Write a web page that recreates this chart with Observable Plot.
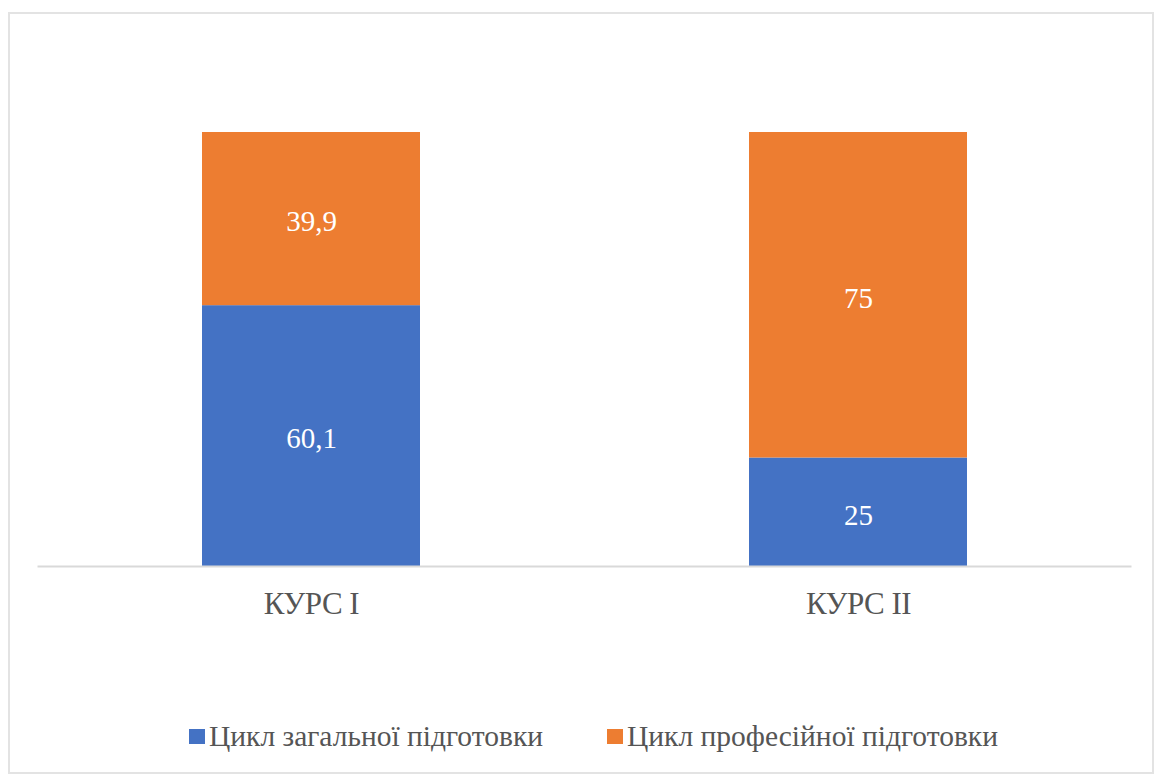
<!DOCTYPE html>
<html>
<head>
<meta charset="utf-8">
<script src="https://cdn.jsdelivr.net/npm/d3@7"></script>
<script src="https://cdn.jsdelivr.net/npm/@observablehq/plot@0.6"></script>
<style>
  html, body { margin: 0; padding: 0; background: #fff; }
  body { width: 1158px; height: 779px; position: relative; overflow: hidden; font-family: "Liberation Serif", "DejaVu Serif", serif; }
  #frame { position: absolute; left: 8px; top: 12px; width: 1146px; height: 762px; border: 2px solid #e3e3e3; box-sizing: border-box; pointer-events: none; }
  #chart { position: absolute; left: 0; top: 0; }
  #legend { position: absolute; left: 189px; top: 720px; display: flex; align-items: center; gap: 64px; font-size: 29.5px; color: #555555; }
  .item { display: flex; align-items: center; gap: 4px; }
  .sw { width: 16px; height: 15px; display: inline-block; }
</style>
</head>
<body>
<div id="frame"></div>
<div id="chart"></div>
<div id="legend"></div>
<script>
const courses = ["КУРС I", "КУРС II"];
const seriesNames = ["Цикл загальної підготовки", "Цикл професійної підготовки"];
const generalValues = [60.1, 25];
const professionalValues = [39.9, 75];
const seriesColors = ["#4472C4", "#ED7D31"];

const data = [];
courses.forEach((c, i) => {
  data.push({course: c, series: seriesNames[0], value: generalValues[i]});
  data.push({course: c, series: seriesNames[1], value: professionalValues[i]});
});
const fmt = v => String(v).replace(".", ",");

const plot = Plot.plot({
  width: 1158,
  height: 660,
  marginTop: 132,
  marginBottom: 94,
  marginLeft: 37.5,
  marginRight: 26.5,
  style: {fontFamily: "Liberation Serif", fontSize: "28px", background: "transparent"},
  x: {domain: courses, paddingInner: 0.6015, paddingOuter: 0.30075, align: 0.5, label: null},
  y: {domain: [0, 100], axis: null},
  color: {domain: seriesNames, range: seriesColors},
  marks: [
    Plot.barY(data, Plot.stackY({x: "course", y: "value", fill: "series", order: null})),
    Plot.ruleY([0], {stroke: "#d9d9d9", strokeWidth: 2}),
    Plot.text(data, Plot.stackY({x: "course", y: "value", z: "series", order: null, text: d => fmt(d.value), fill: "white", fontSize: 29, dy: 3})),
    Plot.axisX({tickSize: 0, tickPadding: 25, fontSize: 31, fill: "#555555", label: null})
  ]
});
plot.querySelectorAll("[aria-label='x-axis tick label'] text").forEach(t => t.setAttribute("letter-spacing", "-0.5"));
document.getElementById("chart").appendChild(plot);

const legend = document.getElementById("legend");
seriesNames.forEach((name, i) => {
  const item = document.createElement("div");
  item.className = "item";
  const sw = document.createElement("span");
  sw.className = "sw";
  sw.style.background = seriesColors[i];
  const t = document.createElement("span");
  t.textContent = name;
  item.appendChild(sw);
  item.appendChild(t);
  legend.appendChild(item);
});
</script>
</body>
</html>
